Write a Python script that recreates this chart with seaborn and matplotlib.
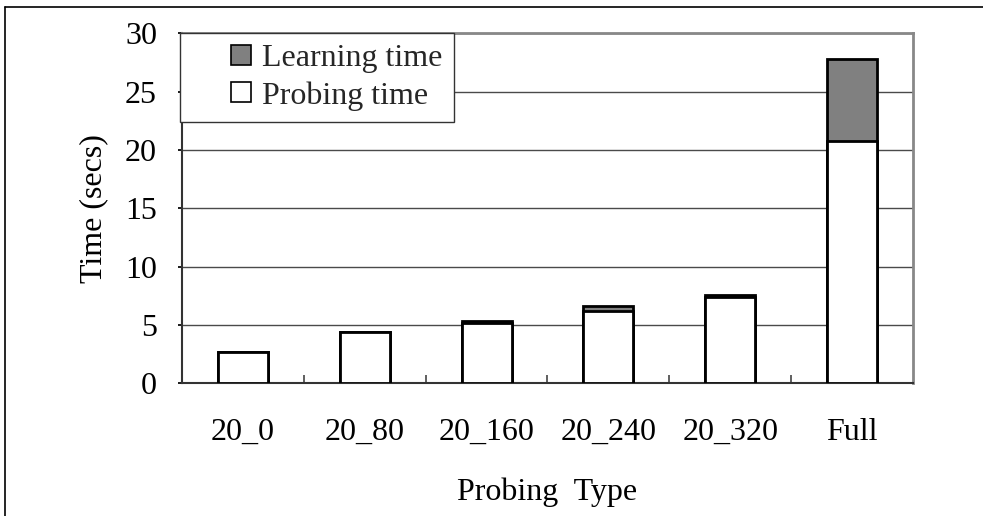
import matplotlib
matplotlib.use("Agg")
import matplotlib.pyplot as plt
from matplotlib.lines import Line2D
from matplotlib.patches import Patch, Rectangle
from matplotlib.legend_handler import HandlerPatch
import seaborn as sns
import pandas as pd
import numpy as np

categories = ["20_0", "20_80", "20_160", "20_240", "20_320", "Full"]
probing_time = [2.7, 4.4, 5.2, 6.2, 7.4, 20.8]
learning_time = [0.0, 0.0, 0.15, 0.4, 0.2, 7.0]
y_ticks = [0, 5, 10, 15, 20, 25, 30]

sns.set_theme(style="white")
plt.rcParams["font.family"] = ["Liberation Serif", "DejaVu Serif"]

FS = 23

df = pd.DataFrame({
    "type": categories,
    "probing": probing_time,
    "learning": learning_time,
})
df["total"] = df["probing"] + df["learning"]

fig = plt.figure(figsize=(9.83, 5.16), dpi=100)
fig.patch.set_facecolor("white")
ax = fig.add_axes([0.1851, 0.2572, 0.9288 - 0.1851, 0.9355 - 0.2572])

ax.set_ylim(0, 30)
ax.set_yticks(y_ticks)
ax.yaxis.grid(True, color="#4a4a4a", linewidth=1.0)
ax.set_axisbelow(True)

sns.barplot(data=df, x="type", y="total", color="#808080", edgecolor="black",
            linewidth=2, width=0.41, saturation=1, ax=ax, zorder=3)
sns.barplot(data=df, x="type", y="probing", color="white", edgecolor="black",
            linewidth=2, width=0.41, saturation=1, ax=ax, zorder=4)

ax.set_xlim(-0.5, len(categories) - 0.5)
for s in ["top", "right"]:
    ax.spines[s].set_color("#888888")
    ax.spines[s].set_linewidth(2)
for s in ["left", "bottom"]:
    ax.spines[s].set_color("#333333")
    ax.spines[s].set_linewidth(1.5)

ax.tick_params(axis="x", which="major", length=0, labelsize=FS, pad=25, colors="black")
ax.tick_params(axis="y", which="major", length=3, direction="out", labelsize=FS, pad=15,
               colors="black", left=True)
ax.set_xticks(np.arange(0.5, len(categories) - 0.5, 1), minor=True)
ax.tick_params(axis="x", which="minor", length=6, direction="in", width=1.2, color="#444444", bottom=True)

ax.set_xlabel("Probing  Type", fontsize=FS, labelpad=22, color="black")
ax.set_ylabel("Time (secs)", fontsize=FS, labelpad=12, color="black")


class SquareHandler(HandlerPatch):
    def create_artists(self, legend, orig_handle, xdescent, ydescent, width, height,
                       fontsize, trans):
        side = 20 * 72 / 100.0
        x0 = width - side - xdescent
        y0 = (height - side) / 2 - ydescent
        r = Rectangle((x0, y0), side, side, facecolor=orig_handle.get_facecolor(),
                      edgecolor="black", linewidth=1.2, transform=trans)
        return [r]


handles = [Patch(facecolor="#808080", edgecolor="black", label="Learning time"),
           Patch(facecolor="white", edgecolor="black", label="Probing time")]
leg = ax.legend(handles=handles, loc="upper left", bbox_to_anchor=(-0.002, 1.002),
                fontsize=FS, frameon=True, fancybox=False, borderpad=0.35,
                handlelength=1.85, handleheight=0.7, handletextpad=0.35,
                labelspacing=0.25, borderaxespad=0,
                handler_map={Patch: SquareHandler()})
leg.get_frame().set_edgecolor("#333333")
leg.get_frame().set_linewidth(1.0)
leg.get_frame().set_facecolor("white")
leg.get_frame().set_alpha(1)
leg.set_zorder(10)

fig.add_artist(Line2D([4.5 / 983, 1], [1 - 7 / 516, 1 - 7 / 516], color="black", linewidth=1.2))
fig.add_artist(Line2D([4.5 / 983, 4.5 / 983], [0, 1 - 7 / 516], color="black", linewidth=1.2))

fig.savefig("out.png", dpi=100, facecolor="white")
